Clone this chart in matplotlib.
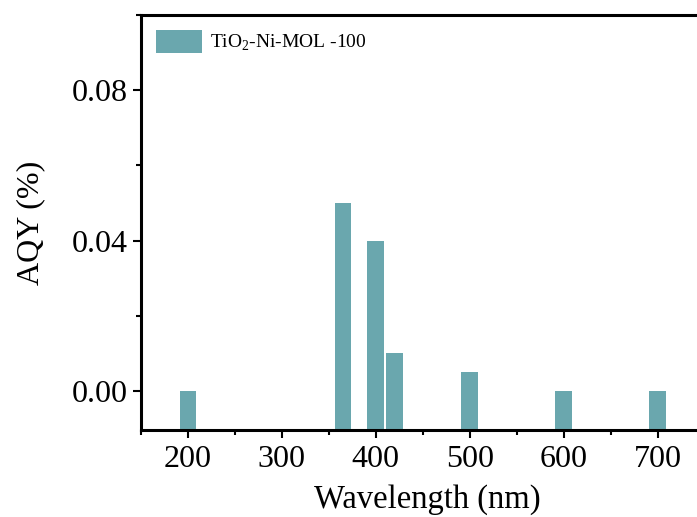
import matplotlib.pyplot as plt
from matplotlib.ticker import MultipleLocator

wavelength = [200, 365, 400, 420, 500, 600, 700]
aqy = [0.0, 0.05, 0.04, 0.01, 0.005, 0.0, 0.0]
series_name = 'TiO$_2$-Ni-MOL -100'
bar_color = '#6aa7ae'

plt.rcParams['font.family'] = ['Liberation Serif', 'DejaVu Serif']
plt.rcParams['mathtext.fontset'] = 'custom'
plt.rcParams['mathtext.rm'] = 'Liberation Serif'

fig = plt.figure(figsize=(6.97, 5.17), dpi=100)
# axes run past the right edge of the figure, so the right spine is cut off
ax = fig.add_axes([0.2023, 0.1683, 0.8222, 0.8027])

ymin = -0.0104
ax.bar(wavelength, [v - ymin for v in aqy], bottom=ymin, width=18,
       color=bar_color, label=series_name)

ax.set_xlim(150, 760)
ax.set_ylim(ymin, 0.1)
ax.xaxis.set_major_locator(MultipleLocator(100))
ax.xaxis.set_minor_locator(MultipleLocator(50))
ax.yaxis.set_major_locator(MultipleLocator(0.04))
ax.yaxis.set_minor_locator(MultipleLocator(0.02))
ax.yaxis.set_major_formatter(lambda v, p: f'{v:.2f}')

for s in ax.spines.values():
    s.set_linewidth(2.2)
ax.tick_params(which='major', direction='out', length=5.8, width=1.5, labelsize=23)
ax.tick_params(axis='x', which='major', pad=5)
ax.tick_params(which='minor', direction='out', length=3.6, width=1.5)

ax.set_xlabel('Wavelength (nm)', fontsize=23.5, labelpad=7)
ax.set_ylabel('AQY (%)', fontsize=23, labelpad=19)

ax.legend(loc='upper left', frameon=False, fontsize=14, handlelength=2.4,
          handleheight=1.5, handletextpad=0.4, borderaxespad=0.35,
          bbox_to_anchor=(0.0, 1.0))

fig.savefig('out.png', dpi=100)
